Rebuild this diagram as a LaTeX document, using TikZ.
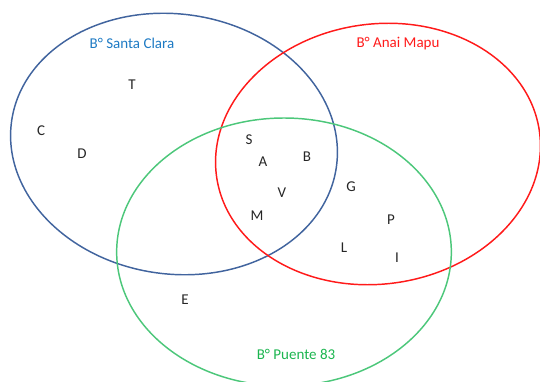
\documentclass[tikz,border=0pt]{standalone}
\usepackage{fontspec}
\setmainfont{Carlito}
\usetikzlibrary{shapes.geometric}
\definecolor{clarablue}{HTML}{41649E}
\definecolor{claratext}{HTML}{1F7BC4}
\definecolor{anaired}{HTML}{FF1A1A}
\definecolor{puentegreen}{HTML}{4CC77A}
\definecolor{puentetext}{HTML}{1BB54F}
\tikzset{
  setring/.style={ellipse, draw, inner sep=0pt, line width=1.1pt},
  elem/.style={font=\fontsize{11.25pt}{13pt}\selectfont, text=black!85, inner sep=0pt},
  settitle/.style={font=\fontsize{11.25pt}{13pt}\selectfont, inner sep=0pt},
}
\begin{document}
\begin{tikzpicture}[x=0.75pt,y=-0.75pt]
\useasboundingbox (0,0) rectangle (540,382);
\clip (0,0) rectangle (540,382);
\node[setring, draw=clarablue, minimum width=246pt, minimum height=195pt, rotate=-8] (clara) at (174,144) {};
\node[setring, draw=anaired, minimum width=244.5pt, minimum height=195pt, rotate=8] (anai) at (378,154) {};
\node[setring, draw=puentegreen, minimum width=251pt, minimum height=201pt] (puente) at (284,252) {};
\node[settitle, text=claratext] (tclara) at (132,43) {B° Santa Clara};
\node[settitle, text=anaired] (tanai) at (398,44) {B° Anai Mapu};
\node[settitle, text=puentetext] (tpuente) at (296,354) {B° Puente 83};
\node[elem] (T) at (132,85) {T};
\node[elem] (C) at (41,131) {C};
\node[elem] (D) at (82,154) {D};
\node[elem] (S) at (249,140) {S};
\node[elem] (A) at (263,162) {A};
\node[elem] (B) at (307,157) {B};
\node[elem] (G) at (351,187) {G};
\node[elem] (V) at (282,193) {V};
\node[elem] (M) at (257,216) {M};
\node[elem] (P) at (391,220) {P};
\node[elem] (L) at (344,248) {L};
\node[elem] (I) at (397,258) {I};
\node[elem] (E) at (185,300) {E};
\end{tikzpicture}
\end{document}
